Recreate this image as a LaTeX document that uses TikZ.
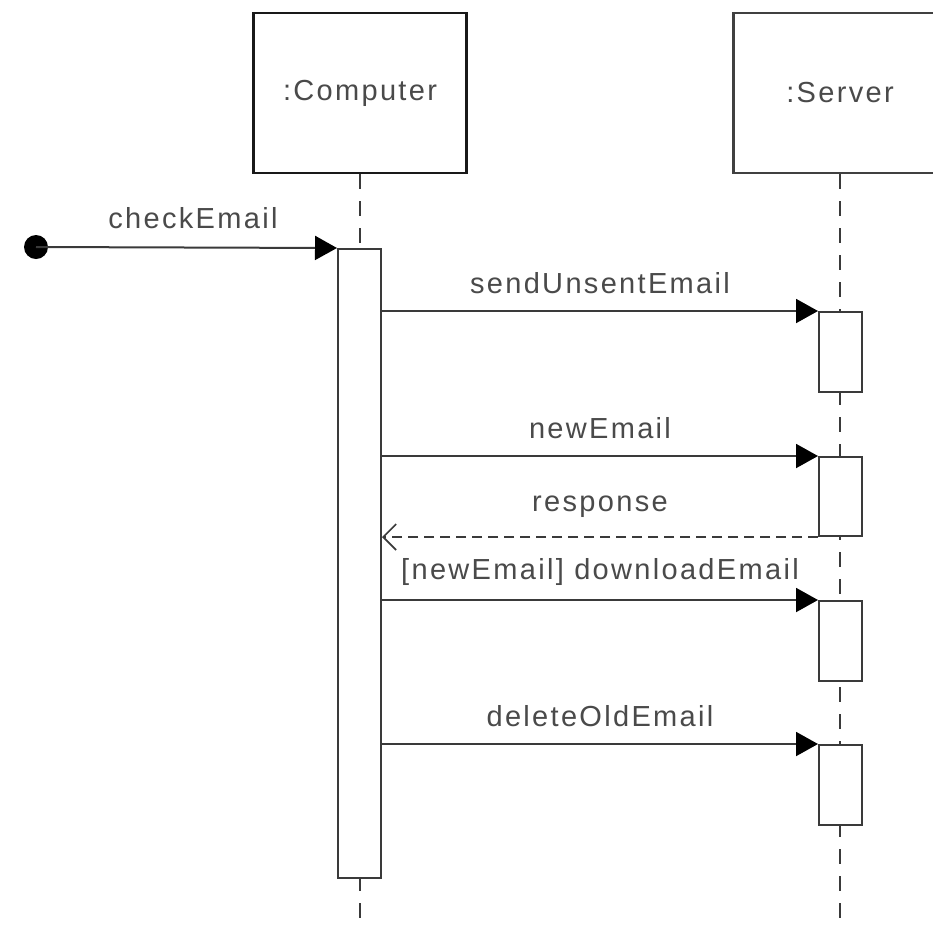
\documentclass[tikz,border=0pt]{standalone}
\usepackage{fontspec}
\setmainfont{Liberation Sans}[LetterSpace=8]
\usetikzlibrary{arrows.meta}
\definecolor{txt}{HTML}{4A4A4A}
\definecolor{ln}{HTML}{3A3A3A}
\tikzset{
  headbox/.style={draw=black!90, line width=2.6pt, fill=white, minimum width=213pt, minimum height=160pt, inner sep=0pt, text=txt, font=\fontsize{29}{34}\selectfont},
  actbar/.style={draw=ln, line width=2pt, fill=white, minimum width=43pt, inner sep=0pt, anchor=north},
  lifeline/.style={draw=ln, line width=2pt, dash pattern=on 15pt off 12pt},
  msg/.style={draw=ln, line width=2pt, -{Triangle[length=22pt, width=24pt, fill=black, color=black]}},
  reply/.style={draw=ln, line width=1.6pt, dash pattern=on 10pt off 6pt, -{Straight Barb[length=13pt, width=26pt, line width=1.6pt]}},
  lbl/.style={text=txt, font=\fontsize{29}{34}\selectfont, inner sep=0pt}
}
\begin{document}
\begin{tikzpicture}[x=1pt, y=-1pt]
\clip (0,0) rectangle (933,927);
\fill[white] (0,0) rectangle (933,927);
% heads
\node[headbox] (comp) at (360,93) {:Computer};
\node[headbox, draw=black!75, line width=2.2pt] (serv) at (840,93) {:Server};
\coordinate (cbot) at (360,927);
\coordinate (sbot) at (840,927);
% lifelines
\draw[lifeline] (comp.south) -- (cbot);
\draw[lifeline] (serv.south) -- (sbot);
% activations
\node[actbar, minimum height=629pt] (actC) at (359.5,248) {};
\node[actbar, minimum height=80pt] (act1) at (840.5,311) {};
\node[actbar, minimum height=79pt] (act2) at (840.5,456) {};
\node[actbar, minimum height=80pt] (act3) at (840.5,600) {};
\node[actbar, minimum height=80pt] (act4) at (840.5,744) {};
% start
\node[circle, fill=black, minimum size=24pt, inner sep=0pt] (start) at (36,247) {};
% messages
\draw[msg] (start.center) -- (actC.north west);
\node[lbl] (l0) at (193,218) {checkEmail};
\draw[msg] (actC.east |- act1.north west) -- (act1.north west);
\node[lbl] (l1) at (600,283) {sendUnsentEmail};
\draw[msg] (actC.east |- act2.north west) -- (act2.north west);
\node[lbl] (l2) at (600,428) {newEmail};
\draw[reply] (act2.south west) -- (actC.east |- act2.south west);
\node[lbl] (l3) at (600,507) {response};
\draw[msg] (actC.east |- act3.north west) -- (act3.north west);
\node[lbl] (l4) at (600,572) {[newEmail] downloadEmail};
\draw[msg] (actC.east |- act4.north west) -- (act4.north west);
\node[lbl] (l5) at (600,716) {deleteOldEmail};
\end{tikzpicture}
\end{document}
